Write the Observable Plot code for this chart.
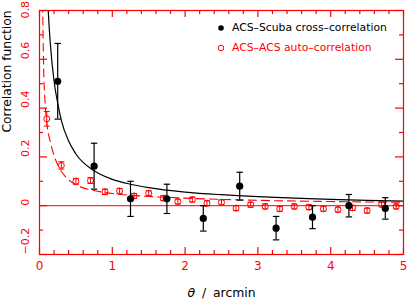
<!DOCTYPE html>
<html><head><meta charset="utf-8">
<script src="https://cdn.jsdelivr.net/npm/d3@7"></script>
<script src="https://cdn.jsdelivr.net/npm/@observablehq/plot@0.6"></script>
<style>body{margin:0;background:#fff;} #chart svg{display:block;} .xlab text{word-spacing:3px;}</style>
</head><body><div id="chart"></div>
<script>
// ACS–Scuba cross-correlation (filled black points)
const crossTheta = [0.25, 0.75, 1.25, 1.75, 2.25, 2.75, 3.25, 3.75, 4.25, 4.75];
const crossXi    = [0.51, 0.162, 0.028, 0.028, -0.052, 0.08, -0.092, -0.047, 0.0, -0.011];
const crossErr   = [0.155, 0.094, 0.072, 0.06, 0.052, 0.057, 0.048, 0.047, 0.046, 0.044];

// ACS–ACS auto-correlation (open red points)
const autoTheta = [0.1, 0.3, 0.5, 0.7, 0.9, 1.1, 1.3, 1.5, 1.7, 1.9, 2.1, 2.3, 2.5, 2.7, 2.9, 3.1, 3.3, 3.5, 3.7, 3.9, 4.1, 4.3, 4.5, 4.7, 4.9];
const autoXi    = [0.356, 0.165, 0.100, 0.103, 0.057, 0.060, 0.040, 0.051, 0.031, 0.017, 0.025, 0.010, 0.014, -0.010, 0.004, -0.003, -0.013, -0.003, -0.006, -0.013, -0.016, -0.009, -0.020, 0.005, -0.003];
const autoErr   = [0.03, 0.015, 0.012, 0.012, 0.011, 0.011, 0.01, 0.01, 0.01, 0.01, 0.01, 0.01, 0.01, 0.01, 0.01, 0.01, 0.01, 0.01, 0.01, 0.01, 0.01, 0.01, 0.01, 0.01, 0.01];

// Fitted curves
const fitCrossTheta = [0.11, 0.12, 0.15, 0.2, 0.25, 0.3, 0.4, 0.5, 0.75, 1.0, 1.25, 1.5, 2.0, 2.5, 3.0, 3.5, 4.0, 4.5, 5.0];
const fitCrossXi    = [0.87, 0.80, 0.66, 0.51, 0.42, 0.35, 0.265, 0.212, 0.143, 0.108, 0.088, 0.074, 0.056, 0.045, 0.037, 0.031, 0.026, 0.022, 0.019];
const fitAutoTheta  = [0.042, 0.045, 0.05, 0.06, 0.073, 0.082, 0.1, 0.15, 0.2, 0.25, 0.3, 0.35, 0.4, 0.5, 0.75, 1.0, 1.5, 2.0, 3.0, 4.0, 5.0];
const fitAutoXi     = [0.88, 0.80, 0.68, 0.53, 0.44, 0.40, 0.34, 0.26, 0.205, 0.168, 0.141, 0.121, 0.106, 0.086, 0.062, 0.050, 0.038, 0.031, 0.022, 0.017, 0.014];

// Axis ticks and labels
const xTicks = [0, 1, 2, 3, 4, 5];
const xTickLabels = ["0", "1", "2", "3", "4", "5"];
const xMinor = [0.2,0.4,0.6,0.8,1.2,1.4,1.6,1.8,2.2,2.4,2.6,2.8,3.2,3.4,3.6,3.8,4.2,4.4,4.6,4.8];
const yTicks = [-0.2, 0, 0.2, 0.4, 0.6, 0.8];
const yTickLabels = ["\u22120.2", "0", "0.2", "0.4", "0.6", "0.8"];
const yMinor = [-0.1, 0.1, 0.3, 0.5, 0.7];

const legendLabels = ["ACS\u2013Scuba cross\u2013correlation", "ACS\u2013ACS auto\u2013correlation"];
const xLabel = "\u03b8 / arcmin";
const yLabel = "Correlation function";

const cross = crossTheta.map((t, i) => ({t, v: crossXi[i], e: crossErr[i]}));
const auto = autoTheta.map((t, i) => ({t, v: autoXi[i], e: autoErr[i]}));
const fitCross = fitCrossTheta.map((t, i) => ({t, v: fitCrossXi[i]}));
const fitAuto = fitAutoTheta.map((t, i) => ({t, v: fitAutoXi[i]}));
const yLab = yTicks.map((v, i) => ({v, s: yTickLabels[i]}));

const W = 407, H = 300, mL = 39, mR = 4, mT = 10, mB = 46;
const pw = W - mL - mR, ph = H - mT - mB;
const RED = "#ff0000";
const cap = (hw) => ({draw(ctx) { ctx.moveTo(-hw, 0); ctx.lineTo(hw, 0); }});

const chart = Plot.plot({
  width: W, height: H,
  marginLeft: mL, marginRight: mR, marginTop: mT, marginBottom: mB,
  style: {fontFamily: "'DejaVu Sans', sans-serif", background: "#fff", overflow: "visible"},
  x: {domain: [0, 5], axis: null},
  y: {domain: [-0.2, 0.8], axis: null},
  marks: [
    Plot.ruleY([0], {stroke: RED, strokeWidth: 1}),
    // fitted curves
    Plot.line(fitAuto, {x: "t", y: "v", stroke: RED, strokeWidth: 1.1, strokeDasharray: "8,5", curve: "monotone-x", clip: true}),
    Plot.line(fitCross, {x: "t", y: "v", stroke: "black", strokeWidth: 1.2, curve: "monotone-x", clip: true}),
    // auto-correlation points
    Plot.ruleX(auto, {x: "t", y1: d => d.v - d.e, y2: d => d.v + d.e, stroke: RED, strokeWidth: 1}),
    Plot.dot(auto, {x: "t", y: d => d.v + d.e, symbol: cap(3), stroke: RED, strokeWidth: 1}),
    Plot.dot(auto, {x: "t", y: d => d.v - d.e, symbol: cap(3), stroke: RED, strokeWidth: 1}),
    Plot.dot(auto, {x: "t", y: "v", r: 3, stroke: RED, strokeWidth: 1, fill: "none"}),
    // cross-correlation points
    Plot.ruleX(cross, {x: "t", y1: d => d.v - d.e, y2: d => d.v + d.e, stroke: "black", strokeWidth: 1.2}),
    Plot.dot(cross, {x: "t", y: d => d.v + d.e, symbol: cap(3.2), stroke: "black", strokeWidth: 1.2}),
    Plot.dot(cross, {x: "t", y: d => d.v - d.e, symbol: cap(3.2), stroke: "black", strokeWidth: 1.2}),
    Plot.dot(cross, {x: "t", y: "v", r: 3.6, fill: "black", stroke: "none"}),
    // frame and inward ticks
    Plot.frame({stroke: RED, strokeWidth: 1.2}),
    Plot.tickX(xTicks, {x: d => d, insetTop: ph - 7, stroke: RED, strokeWidth: 1.2}),
    Plot.tickX(xMinor, {x: d => d, insetTop: ph - 4, stroke: RED, strokeWidth: 1.2}),
    Plot.tickX(xTicks, {x: d => d, insetBottom: ph - 7, stroke: RED, strokeWidth: 1.2}),
    Plot.tickX(xMinor, {x: d => d, insetBottom: ph - 4, stroke: RED, strokeWidth: 1.2}),
    Plot.tickY(yTicks, {y: d => d, insetRight: pw - 8, stroke: RED, strokeWidth: 1.2}),
    Plot.tickY(yMinor, {y: d => d, insetRight: pw - 4, stroke: RED, strokeWidth: 1.2}),
    Plot.tickY(yTicks, {y: d => d, insetLeft: pw - 8, stroke: RED, strokeWidth: 1.2}),
    Plot.tickY(yMinor, {y: d => d, insetLeft: pw - 4, stroke: RED, strokeWidth: 1.2}),
    // tick labels
    Plot.text(xTicks, {x: d => d, text: (d, i) => xTickLabels[i], frameAnchor: "bottom", dy: 12, fill: RED, fontSize: 12, lineAnchor: "middle"}),
    Plot.text(yLab.slice(0, -1), {y: "v", text: "s", frameAnchor: "left", dx: -14, rotate: -90, fill: RED, fontSize: 11, lineAnchor: "middle"}),
    Plot.text(yLab.slice(-1), {y: "v", text: "s", frameAnchor: "left", dx: -14, dy: 8, rotate: -90, fill: RED, fontSize: 11, lineAnchor: "middle"}),
    // axis titles
    Plot.text([yLabel], {text: d => d, frameAnchor: "left", dx: -32, rotate: -90, fill: "black", fontSize: 12.3, lineAnchor: "middle"}),
    Plot.text([xLabel], {text: d => d, frameAnchor: "bottom", dy: 39, fill: "black", fontSize: 12.4, lineAnchor: "middle", className: "xlab"}),
    // legend
    Plot.dot([legendLabels[0]], {frameAnchor: "top-left", dx: 181.5, dy: 17.5, r: 2.8, fill: "black"}),
    Plot.dot([legendLabels[1]], {frameAnchor: "top-left", dx: 181.5, dy: 37.5, r: 2.8, stroke: RED, fill: "none", strokeWidth: 1}),
    Plot.text([legendLabels[0]], {text: d => d, frameAnchor: "top-left", dx: 192.5, dy: 17.5, textAnchor: "start", lineAnchor: "middle", fill: "black", fontSize: 10.8}),
    Plot.text([legendLabels[1]], {text: d => d, frameAnchor: "top-left", dx: 192.5, dy: 37.5, textAnchor: "start", lineAnchor: "middle", fill: RED, fontSize: 10.8})
  ]
});

// italic theta in x title
const t = d3.select(chart).select("g.xlab text");
if (!t.empty()) {
  t.text(null);
  t.append("tspan").attr("font-style", "italic").text("\u03b8");
  t.append("tspan").text(" / arcmin");
}
document.getElementById("chart").appendChild(chart);
</script>
</body></html>
